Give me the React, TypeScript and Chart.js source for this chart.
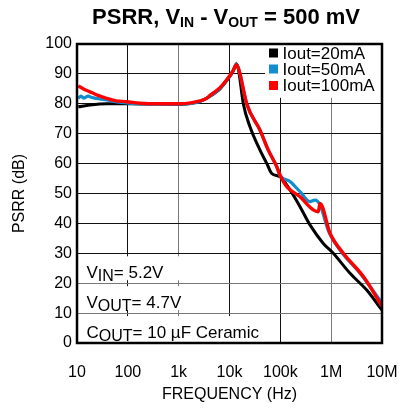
import React, { useEffect, useRef } from 'react';
import { Chart, registerables } from 'chart.js';

Chart.register(...registerables);

// ---- Data (frequency in Hz, PSRR in dB) ----
const freq20 = [10.6, 18, 38.4, 110, 1060, 2630, 4140, 6510, 9360, 11700, 13700, 15000, 18700, 25300, 39800, 54000, 67700, 98600, 155000, 244000, 383000, 701000, 1100000, 2350000, 5000000, 10000000];
const psrr20 = [79.0, 79.6, 80.0, 80.0, 79.8, 80.8, 82.5, 85.0, 88.3, 90.8, 93.4, 91.5, 80.0, 72.3, 64.5, 60.1, 56.7, 55.6, 51.2, 45.6, 39.5, 33.3, 30.0, 23.3, 17.7, 11.0];

const freq50 = [10.6, 12, 13.7, 16.5, 19.7, 28.4, 38.4, 55.9, 95, 173, 1060, 2630, 4140, 6510, 9360, 11700, 13700, 15000, 16100, 21800, 39800, 58000, 84900, 98600, 155000, 244000, 383000, 481000, 604000, 879000, 1490000, 3700000, 10000000];
const psrr50 = [81.8, 82.6, 81.9, 82.6, 82.1, 81.6, 81.3, 80.7, 80.3, 80.0, 79.9, 80.8, 82.6, 85.2, 88.5, 91.0, 93.2, 92.0, 90.0, 80.0, 71.2, 64.5, 59.0, 56.0, 54.0, 50.6, 47.3, 47.8, 46.2, 37.6, 31.1, 23.3, 13.4];

const freq100 = [10.6, 13.7, 18, 25.9, 38.4, 58.5, 95, 173, 430, 1060, 2630, 3560, 4140, 6510, 9360, 11700, 13700, 15000, 16100, 21800, 39800, 58000, 84900, 98600, 134000, 244000, 446000, 559000, 604000, 949000, 1730000, 4300000, 10000000];
const psrr100 = [86.0, 84.9, 84.0, 82.8, 81.8, 81.0, 80.7, 80.2, 80.0, 80.0, 81.0, 81.8, 82.8, 85.4, 88.6, 91.0, 93.0, 91.8, 90.0, 80.0, 71.2, 64.5, 59.0, 56.2, 52.3, 48.9, 44.5, 43.9, 46.7, 36.7, 30.0, 22.2, 12.3];

const xTickValues = [10, 100, 1000, 10000, 100000, 1000000, 10000000];
const xTickLabels = ['10', '100', '1k', '10k', '100k', '1M', '10M'];
const seriesLabels = ['Iout=20mA', 'Iout=50mA', 'Iout=100mA'];

const seriesColors = ['#000000', '#128ece', '#ff0000'];
const FONT = "'Liberation Sans', Arial, Helvetica, sans-serif";

type Part = [string, boolean];

function richWidth(ctx: CanvasRenderingContext2D, parts: Part[], main: string, sub: string) {
  let w = 0;
  for (const [t, s] of parts) {
    ctx.font = s ? sub : main;
    w += ctx.measureText(t).width;
  }
  return w;
}

function drawRich(ctx: CanvasRenderingContext2D, parts: Part[], x: number, y: number, main: string, sub: string, dy: number) {
  let cx = x;
  for (const [t, s] of parts) {
    ctx.font = s ? sub : main;
    ctx.fillText(t, cx, s ? y + dy : y);
    cx += ctx.measureText(t).width;
  }
}

const decorPlugin = {
  id: 'decor',
  beforeDatasetsDraw(chart: any) {
    const { ctx, chartArea: ca, scales } = chart;
    const ys = scales.y;
    const xs = scales.x;
    ctx.save();
    ctx.fillStyle = '#ffffff';
    // legend background
    const lgLeft = xs.getPixelForValue(50000);
    ctx.fillRect(lgLeft, ca.top, ca.right - lgLeft, ys.getPixelForValue(82) - ca.top);
    // annotation backgrounds
    const a1 = xs.getPixelForValue(4200);
    ctx.fillRect(ca.left, ys.getPixelForValue(30) + 3, a1 - ca.left, ys.getPixelForValue(20) - ys.getPixelForValue(30) - 6);
    ctx.fillRect(ca.left, ys.getPixelForValue(20) + 3, a1 - ca.left, ys.getPixelForValue(10) - ys.getPixelForValue(20) - 6);
    const a2 = xs.getPixelForValue(50000);
    ctx.fillRect(ca.left, ys.getPixelForValue(10) + 3, a2 - ca.left, ca.bottom - ys.getPixelForValue(10) - 3);
    ctx.restore();
  },
  afterDatasetsDraw(chart: any) {
    const { ctx, chartArea: ca } = chart;
    ctx.save();
    // frame
    ctx.strokeStyle = '#000';
    ctx.lineWidth = 2.5;
    ctx.strokeRect(ca.left, ca.top, ca.right - ca.left, ca.bottom - ca.top);

    // legend
    ctx.textBaseline = 'alphabetic';
    ctx.textAlign = 'left';
    const baselines = [14.5, 30.5, 47];
    seriesLabels.forEach((lab, i) => {
      const by = ca.top + baselines[i];
      ctx.fillStyle = seriesColors[i];
      ctx.fillRect(ca.left + 192, by - 10, 9, 9);
      ctx.fillStyle = '#000';
      ctx.font = `17px ${FONT}`;
      ctx.fillText(lab, ca.left + 205.5, by);
    });

    // annotations
    ctx.fillStyle = '#000';
    const main = `17px ${FONT}`;
    const sub = `16px ${FONT}`;
    const ax = ca.left + 9.5;
    drawRich(ctx, [['V', false], ['IN', true], ['= 5.2V', false]], ax, ca.top + 233.5, main, sub, 3);
    drawRich(ctx, [['V', false], ['OUT', true], ['= 4.7V', false]], ax, ca.top + 263.5, main, sub, 3);
    drawRich(ctx, [['C', false], ['OUT', true], ['= 10 \u00B5F Ceramic', false]], ax, ca.top + 294, main, sub, 3);
    ctx.restore();
  },
  afterDraw(chart: any) {
    const { ctx } = chart;
    ctx.save();
    ctx.fillStyle = '#000';
    ctx.textBaseline = 'alphabetic';
    ctx.textAlign = 'left';
    const main = `bold 22px ${FONT}`;
    const sub = `bold 14px ${FONT}`;
    const parts: Part[] = [['PSRR, V', false], ['IN', true], [' - V', false], ['OUT', true], [' = 500 mV', false]];
    const w = richWidth(ctx, parts, main, sub);
    drawRich(ctx, parts, 226 - w / 2, 24, main, sub, 3);
    ctx.restore();
  },
};

export default function App() {
  const ref = useRef<HTMLCanvasElement | null>(null);
  useEffect(() => {
    if (!ref.current) return;
    Chart.defaults.font.family = FONT;
    Chart.defaults.color = '#000';
    const mk = (f: number[], p: number[]) => f.map((v, i) => ({ x: v, y: p[i] }));
    const chart = new Chart(ref.current, {
      type: 'line',
      data: {
        datasets: [
          { label: seriesLabels[0], data: mk(freq20, psrr20), borderColor: seriesColors[0], borderWidth: 3, pointRadius: 0, cubicInterpolationMode: 'monotone', order: 3 },
          { label: seriesLabels[1], data: mk(freq50, psrr50), borderColor: seriesColors[1], borderWidth: 3.2, pointRadius: 0, cubicInterpolationMode: 'monotone', order: 2 },
          { label: seriesLabels[2], data: mk(freq100, psrr100), borderColor: seriesColors[2], borderWidth: 3.4, pointRadius: 0, cubicInterpolationMode: 'monotone', order: 1 },
        ],
      },
      options: {
        animation: false,
        responsive: false,
        maintainAspectRatio: false,
        layout: { padding: { top: 44, right: 18, bottom: 0, left: 0 } },
        plugins: { legend: { display: false }, tooltip: { enabled: false }, title: { display: false } },
        scales: {
          x: {
            type: 'logarithmic',
            min: 10,
            max: 10000000,
            afterBuildTicks: (scale: any) => {
              scale.ticks = xTickValues.map((v) => ({ value: v }));
            },
            afterFit: (scale: any) => {
              scale.height = 66;
            },
            ticks: {
              autoSkip: false,
              maxRotation: 0,
              padding: 0,
              font: { size: 16 },
              color: '#000',
              callback: (_v: any, i: number) => xTickLabels[i],
            },
            grid: {
              drawTicks: true,
              tickLength: 20,
              tickColor: 'rgba(0,0,0,0)',
              lineWidth: 1,
              color: (c: any) => (c.tick && (c.tick.value === 1000 || c.tick.value === 1000000) ? '#7a7a7a' : '#111'),
            },
            border: { display: false },
            title: { display: true, text: 'FREQUENCY (Hz)', font: { size: 16 }, color: '#000', padding: { top: 0, bottom: 5 } },
          },
          y: {
            min: 0,
            max: 100,
            afterFit: (scale: any) => {
              scale.width = 77;
            },
            ticks: { stepSize: 10, padding: 5, font: { size: 16 }, color: '#000' },
            grid: {
              drawTicks: false,
              lineWidth: 1,
              color: (c: any) => (c.tick && (c.tick.value === 10 || c.tick.value === 20) ? '#777' : '#111'),
            },
            border: { display: false },
            title: { display: true, text: 'PSRR (dB)', font: { size: 16 }, color: '#000', padding: { top: 10, bottom: 0 } },
          },
        },
      },
      plugins: [decorPlugin],
    } as any);
    return () => chart.destroy();
  }, []);
  return (
    <div style={{ position: 'absolute', left: 0, top: 0, width: 400, height: 409, background: '#fff' }}>
      <canvas ref={ref} width={400} height={409} style={{ display: 'block' }} />
    </div>
  );
}
